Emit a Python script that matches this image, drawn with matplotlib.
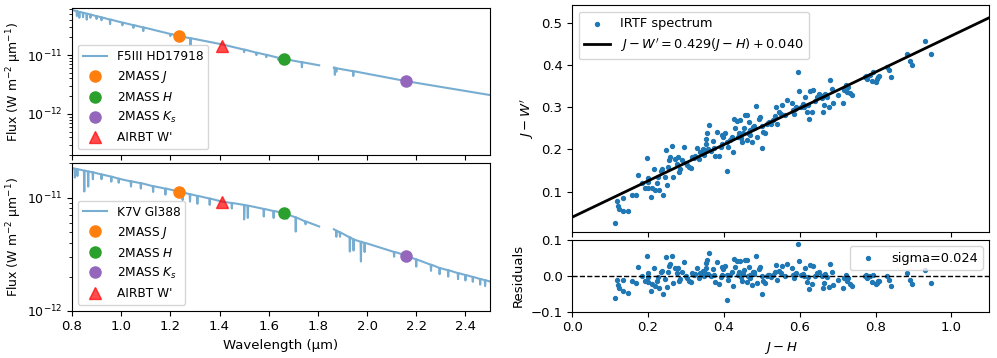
import matplotlib
matplotlib.use("Agg")
import matplotlib.pyplot as plt
import numpy as np

SPEC_COLOR = "C0"
SPEC_ALPHA = 0.6

plt.rcParams["font.size"] = 9.5

# photometry wavelengths (um)
J_WAVE = 1.235
W_WAVE = 1.41
H_WAVE = 1.662
KS_WAVE = 2.159

# F5III HD17918: continuum knots + absorption lines
f5_cont_wave = [0.80, 1.00, 1.235, 1.41, 1.662, 1.805, 1.835, 1.865, 2.159, 2.50]
f5_cont_flux = [5.85e-11, 3.6e-11, 2.11e-11, 1.52e-11, 8.55e-12, 6.7e-12, np.nan, 6.13e-12, 3.6e-12, 2.09e-12]
f5_line_wave = [0.820, 0.830, 0.845, 0.860, 0.875, 0.900, 0.920, 0.955, 1.005, 1.050, 1.090,
                1.200, 1.282, 1.500, 1.550, 1.590, 1.640, 1.680, 1.735, 1.869, 1.875, 1.944]
f5_line_top = [5.57e-11, 5.43e-11, 5.25e-11, 5.06e-11, 4.88e-11, 4.59e-11, 4.37e-11, 4.02e-11, 3.56e-11, 3.23e-11, 2.95e-11,
               2.29e-11, 1.93e-11, 1.24e-11, 1.10e-11, 1.01e-11, 9.0e-12, 8.3e-12, 7.55e-12, 6.1e-12, 5.95e-12, 5.32e-12]
f5_line_bot = [4.6e-11, 4.3e-11, 4.4e-11, 4.0e-11, 4.3e-11, 4.1e-11, 3.9e-11, 3.35e-11, 3.2e-11, 2.9e-11, 2.55e-11,
               2.1e-11, 1.48e-11, 1.12e-11, 1.0e-11, 9.2e-12, 8.2e-12, 7.5e-12, 6.2e-12, 4.6e-12, 5.2e-12, 4.4e-12]
f5_phot = [2.11e-11, 8.55e-12, 3.6e-12]   # J, H, Ks
f5_wprime = 1.44e-11

# K7V Gl388
k7_cont_wave = [0.80, 0.90, 1.00, 1.235, 1.41, 1.50, 1.662, 1.805, 1.835, 1.865, 1.95, 2.159, 2.30, 2.50]
k7_cont_flux = [1.82e-11, 1.64e-11, 1.45e-11, 1.13e-11, 9.2e-12, 8.6e-12, 7.3e-12, 5.55e-12, np.nan,
                5.25e-12, 4.23e-12, 3.07e-12, 2.37e-12, 1.81e-12]
k7_line_wave = [0.812, 0.822, 0.850, 0.866, 0.885, 0.920, 0.960, 0.990, 1.040, 1.080, 1.130, 1.180,
                1.250, 1.280, 1.310, 1.360, 1.450, 1.500, 1.515, 1.580, 1.620, 1.675, 1.710, 1.750,
                1.875, 1.890, 1.930, 1.945, 1.975, 1.990, 2.110, 2.200, 2.260, 2.295, 2.330, 2.370,
                2.400, 2.430, 2.460, 2.480]
k7_line_top = [1.80e-11, 1.78e-11, 1.73e-11, 1.70e-11, 1.67e-11, 1.60e-11, 1.53e-11, 1.47e-11, 1.39e-11, 1.34e-11, 1.26e-11, 1.20e-11,
               1.11e-11, 1.07e-11, 1.035e-11, 9.8e-12, 8.95e-12, 8.6e-12, 8.48e-12, 7.94e-12, 7.6e-12, 7.1e-12, 6.68e-12, 6.14e-12,
               5.1e-12, 4.92e-12, 4.45e-12, 4.28e-12, 4.07e-12, 3.98e-12, 3.31e-12, 2.84e-12, 2.55e-12, 2.39e-12, 2.28e-12, 2.15e-12,
               2.07e-12, 1.99e-12, 1.91e-12, 1.86e-12]
k7_line_bot = [1.5e-11, 1.55e-11, 1.13e-11, 1.25e-11, 1.45e-11, 1.45e-11, 1.38e-11, 1.35e-11, 1.25e-11, 1.2e-11, 1.12e-11, 1.06e-11,
               9.5e-12, 9.2e-12, 8.8e-12, 8.6e-12, 8.0e-12, 6.4e-12, 6.6e-12, 6.8e-12, 6.6e-12, 6.5e-12, 5.0e-12, 5.8e-12,
               4.5e-12, 4.5e-12, 3.33e-12, 3.4e-12, 2.72e-12, 3.3e-12, 3.0e-12, 2.45e-12, 2.25e-12, 2.1e-12, 2.0e-12, 1.9e-12,
               1.85e-12, 1.8e-12, 1.7e-12, 1.65e-12]
k7_phot = [1.13e-11, 7.3e-12, 3.07e-12]
k7_wprime = 9.1e-12

# IRTF colours
jh = [0.114, 0.117, 0.120, 0.124, 0.135, 0.133, 0.148, 0.157, 0.168, 0.174, 0.192, 0.196, 0.199, 0.201,
      0.201, 0.207, 0.209, 0.216, 0.218, 0.224, 0.230, 0.233, 0.236, 0.239, 0.245, 0.248, 0.250, 0.252,
      0.255, 0.258, 0.262, 0.266, 0.271, 0.275, 0.280, 0.282, 0.284, 0.295, 0.299, 0.303, 0.308, 0.312,
      0.317, 0.324, 0.330, 0.333, 0.337, 0.341, 0.344, 0.347, 0.350, 0.353, 0.354, 0.356, 0.361, 0.365,
      0.370, 0.374, 0.377, 0.381, 0.388, 0.392, 0.394, 0.398, 0.403, 0.407, 0.409, 0.412, 0.416, 0.425,
      0.427, 0.429, 0.434, 0.438, 0.441, 0.442, 0.447, 0.450, 0.453, 0.456, 0.460, 0.462, 0.464, 0.467,
      0.469, 0.473, 0.476, 0.478, 0.480, 0.485, 0.488, 0.492, 0.495, 0.500, 0.501, 0.504, 0.508, 0.513,
      0.520, 0.523, 0.530, 0.535, 0.537, 0.541, 0.546, 0.552, 0.561, 0.566, 0.579, 0.583, 0.585, 0.588,
      0.590, 0.596, 0.599, 0.602, 0.608, 0.610, 0.614, 0.618, 0.623, 0.625, 0.627, 0.631, 0.636, 0.645,
      0.652, 0.658, 0.661, 0.663, 0.664, 0.667, 0.671, 0.676, 0.680, 0.684, 0.689, 0.713, 0.717, 0.722,
      0.724, 0.728, 0.733, 0.739, 0.772, 0.775, 0.777, 0.786, 0.790, 0.794, 0.801, 0.805, 0.807, 0.810,
      0.829, 0.836, 0.840, 0.882, 0.891, 0.895, 0.931, 0.946,
      0.185, 0.226, 0.290, 0.320, 0.358, 0.395, 0.420, 0.445, 0.470, 0.515, 0.550, 0.640, 0.700]
jw = [0.027, 0.079, 0.067, 0.059, 0.055, 0.086, 0.055, 0.093, 0.093, 0.140, 0.108, 0.179, 0.132, 0.122,
      0.108, 0.087, 0.108, 0.154, 0.104, 0.121, 0.105, 0.150, 0.154, 0.093, 0.136, 0.198, 0.116, 0.159,
      0.176, 0.183, 0.208, 0.135, 0.178, 0.165, 0.183, 0.147, 0.154, 0.205, 0.167, 0.163, 0.158, 0.156,
      0.183, 0.184, 0.203, 0.177, 0.193, 0.195, 0.200, 0.188, 0.198, 0.226, 0.213, 0.238, 0.258, 0.197,
      0.219, 0.203, 0.184, 0.242, 0.185, 0.205, 0.234, 0.229, 0.240, 0.218, 0.149, 0.205, 0.222, 0.195,
      0.271, 0.250, 0.268, 0.230, 0.240, 0.270, 0.218, 0.238, 0.251, 0.281, 0.281, 0.222, 0.240, 0.266,
      0.234, 0.218, 0.254, 0.250, 0.256, 0.303, 0.230, 0.271, 0.276, 0.203, 0.255, 0.242, 0.238, 0.260,
      0.266, 0.261, 0.270, 0.279, 0.300, 0.260, 0.289, 0.305, 0.281, 0.317, 0.309, 0.293, 0.285, 0.297,
      0.301, 0.384, 0.339, 0.301, 0.307, 0.301, 0.325, 0.289, 0.305, 0.272, 0.339, 0.289, 0.341, 0.325,
      0.331, 0.321, 0.289, 0.305, 0.328, 0.332, 0.325, 0.300, 0.364, 0.344, 0.309, 0.311, 0.341, 0.353,
      0.337, 0.347, 0.333, 0.330, 0.371, 0.374, 0.366, 0.376, 0.363, 0.384, 0.360, 0.366, 0.371, 0.374,
      0.396, 0.388, 0.372, 0.426, 0.410, 0.401, 0.457, 0.427,
      0.120, 0.135, 0.175, 0.180, 0.200, 0.212, 0.230, 0.228, 0.245, 0.262, 0.285, 0.315, 0.330]

slope = 0.429
intercept = 0.040
sigma = 0.024


def build_spectrum(cont_w, cont_f, line_w, line_top, line_bot):
    pts = list(zip(cont_w, cont_f))
    for w, t, b in zip(line_w, line_top, line_bot):
        pts += [(w - 0.0015, t), (w, b), (w + 0.0015, t)]
    pts.sort(key=lambda p: p[0])
    return [p[0] for p in pts], [p[1] for p in pts]


def plot_star(ax, name, wave, flux, phot, wprime):
    ax.plot(wave, flux, color=SPEC_COLOR, alpha=SPEC_ALPHA, lw=1.5, label=name)
    ax.plot(J_WAVE, phot[0], "o", color="C1", ms=8, label="2MASS $J$")
    ax.plot(H_WAVE, phot[1], "o", color="C2", ms=8, label="2MASS $H$")
    ax.plot(KS_WAVE, phot[2], "o", color="C4", ms=8, label="2MASS $K_s$")
    ax.plot(W_WAVE, wprime, "^", color="red", alpha=0.7, ms=8, label="AIRBT W'")
    ax.set_yscale("log")
    ax.set_xlim(0.8, 2.5)
    ax.tick_params(axis="y", labelsize=9)
    ax.set_ylabel("Flux (W m$^{-2}$ \u00b5m$^{-1}$)", fontsize=9, labelpad=2)
    ax.legend(loc="lower left", fontsize=8.7)


fig = plt.figure(figsize=(9.97, 3.58), dpi=100)
ax1 = fig.add_axes([0.0722, 0.567, 0.4193, 0.4106])
ax2 = fig.add_axes([0.0722, 0.1321, 0.4193, 0.4134])
# residual axes first so the main panel sits on top of it
ax4 = fig.add_axes([0.574, 0.1293, 0.4183, 0.2003])
ax3 = fig.add_axes([0.574, 0.351, 0.4183, 0.634])

w, f = build_spectrum(f5_cont_wave, f5_cont_flux, f5_line_wave, f5_line_top, f5_line_bot)
plot_star(ax1, "F5III HD17918", w, f, f5_phot, f5_wprime)
ax1.set_ylim(2e-13, 6.3e-11)
ax1.tick_params(labelbottom=False)

w, f = build_spectrum(k7_cont_wave, k7_cont_flux, k7_line_wave, k7_line_top, k7_line_bot)
plot_star(ax2, "K7V Gl388", w, f, k7_phot, k7_wprime)
ax2.set_ylim(1e-12, 2.03e-11)
ax2.set_xlabel("Wavelength (\u00b5m)")

# colour relation
jh = np.array(jh)
jw = np.array(jw)
xfit = np.array([0.0, 1.1])
ax3.scatter(jh, jw, s=8, color="C0", label="IRTF spectrum")
ax3.plot(xfit, slope * xfit + intercept, color="black", lw=2,
         label="$J-W' = %.3f(J-H) + %.3f$" % (slope, intercept))
ax3.set_xlim(0, 1.1)
ax3.set_ylim(0.004, 0.541)
ax3.set_ylabel("$J-W'$")
ax3.tick_params(labelbottom=False)
ax3.legend(loc="upper left", fontsize=9.3)

resid = jw - (slope * jh + intercept)
ax4.scatter(jh, resid, s=8, color="C0", label="sigma=%.3f" % sigma)
ax4.axhline(0, color="black", ls="--", lw=1)
ax4.set_xlim(0, 1.1)
ax4.set_ylim(-0.1, 0.1)
ax4.set_ylabel("Residuals")
ax4.set_xlabel("$J-H$")
ax4.legend(loc="upper right", fontsize=9.3)

fig.savefig("out.png", dpi=100)
